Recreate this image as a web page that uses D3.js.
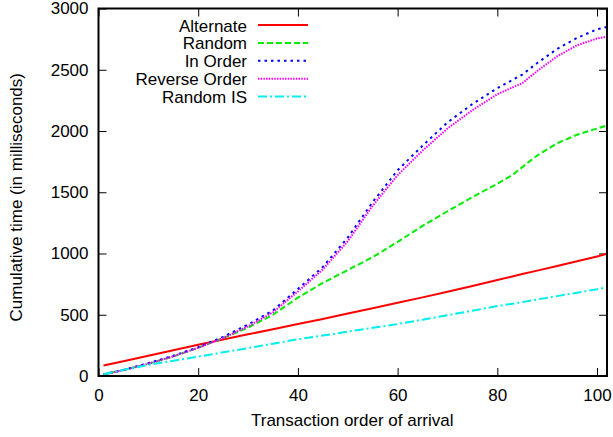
<!DOCTYPE html>
<html>
<head>
<meta charset="utf-8">
<script src="https://cdn.jsdelivr.net/npm/d3@7"></script>
<style>
  html, body { margin: 0; padding: 0; background: #fff; }
  svg { display: block; }
  text { font-family: "Liberation Sans", Arial, Helvetica, sans-serif; fill: #000; }
</style>
</head>
<body>
<svg id="chart" width="613" height="437"></svg>
<script>
// Transaction order (x) at which cumulative times were sampled
const order = [1, 5, 10, 15, 20, 25, 30, 35, 40, 45, 50, 55, 60, 65, 70, 75, 80, 83, 85, 88, 92, 96, 100, 102];

// Cumulative time in milliseconds for each scheduling strategy
const alternate = [85, 120, 165, 210, 255, 298, 340, 382, 424, 466, 510, 553, 598, 642, 688, 735, 784, 812, 832, 860, 898, 936, 975, 998];
const random    = [12, 48, 100, 160, 230, 310, 395, 500, 640, 760, 865, 970, 1095, 1225, 1345, 1460, 1570, 1640, 1705, 1800, 1900, 1970, 2020, 2045];
const inOrder   = [15, 50, 105, 165, 235, 320, 420, 535, 710, 890, 1130, 1420, 1680, 1880, 2070, 2220, 2350, 2416, 2460, 2555, 2670, 2760, 2830, 2850];
const reverse   = [12, 48, 100, 160, 230, 310, 405, 520, 690, 870, 1100, 1390, 1640, 1840, 2020, 2170, 2300, 2355, 2390, 2490, 2610, 2700, 2755, 2770];
const randomIS  = [15, 50, 90, 125, 158, 193, 228, 264, 300, 330, 362, 393, 424, 460, 496, 533, 571, 590, 603, 625, 652, 680, 708, 724];

const seriesNames = ["Alternate", "Random", "In Order", "Reverse Order", "Random IS"];
const seriesValues = [alternate, random, inOrder, reverse, randomIS];
const seriesColors = ["#ff0000", "#00ee00", "#0000ff", "#ff00ff", "#00eeee"];
const seriesDash = ["none", "6,3", "2.5,4", "1.5,1.2", "9,3,2,3"];

const xTicks = [0, 20, 40, 60, 80, 100];
const yTicks = [0, 500, 1000, 1500, 2000, 2500, 3000];

const svg = d3.select("#chart");
const plotLeft = 98.5, plotRight = 607, plotTop = 8.5, plotBottom = 376;

const x = d3.scaleLinear().domain([0, 102]).range([plotLeft, plotRight]);
const y = d3.scaleLinear().domain([0, 3000]).range([plotBottom, plotTop]);

const fontSize = 17;
const tickLen = 8;

// Axes with inward ticks, mirrored on top and right
const gBottom = svg.append("g").attr("transform", `translate(0,${plotBottom})`)
  .call(d3.axisBottom(x).tickValues(xTicks).tickSize(-tickLen).tickPadding(13).tickFormat(d3.format("d")));
const gLeft = svg.append("g").attr("transform", `translate(${plotLeft},0)`)
  .call(d3.axisLeft(y).tickValues(yTicks).tickSize(-tickLen).tickPadding(10).tickFormat(d3.format("d")));
const gTop = svg.append("g").attr("transform", `translate(0,${plotTop})`)
  .call(d3.axisTop(x).tickValues(xTicks).tickSize(-tickLen).tickFormat(""));
const gRight = svg.append("g").attr("transform", `translate(${plotRight},0)`)
  .call(d3.axisRight(y).tickValues(yTicks).tickSize(-tickLen).tickFormat(""));

[gBottom, gLeft, gTop, gRight].forEach(g => {
  g.select(".domain").remove();
  g.selectAll(".tick line").attr("stroke", "#000").attr("stroke-width", 1);
  g.selectAll("text").attr("font-size", fontSize).attr("font-family", null).style("fill", "#000");
});

// Data lines
const line = d3.line().x((d, i) => x(order[i])).y(d => y(d));
svg.append("clipPath").attr("id", "plotclip")
  .append("rect").attr("x", plotLeft).attr("y", plotTop)
  .attr("width", plotRight - plotLeft).attr("height", plotBottom - plotTop);

const plot = svg.append("g").attr("clip-path", "url(#plotclip)");
seriesValues.forEach((vals, k) => {
  plot.append("path")
    .datum(vals)
    .attr("fill", "none")
    .attr("stroke", seriesColors[k])
    .attr("stroke-width", 2)
    .attr("stroke-dasharray", seriesDash[k])
    .attr("d", line);
});

// Border
svg.append("rect")
  .attr("x", plotLeft).attr("y", plotTop)
  .attr("width", plotRight - plotLeft).attr("height", plotBottom - plotTop)
  .attr("fill", "none").attr("stroke", "#000").attr("stroke-width", 2);

// Legend
const legend = svg.append("g");
seriesNames.forEach((name, k) => {
  const ly = 25 + k * 17.9;
  legend.append("text")
    .attr("x", 247).attr("y", ly + 6.5)
    .attr("text-anchor", "end")
    .attr("font-size", fontSize)
    .text(name);
  legend.append("line")
    .attr("x1", 258).attr("x2", 308)
    .attr("y1", ly).attr("y2", ly)
    .attr("stroke", seriesColors[k])
    .attr("stroke-width", 2)
    .attr("stroke-dasharray", seriesDash[k]);
});

// Axis titles
svg.append("text")
  .attr("x", (plotLeft + plotRight) / 2 - 0.5).attr("y", 426)
  .attr("text-anchor", "middle")
  .attr("font-size", fontSize)
  .text("Transaction order of arrival");

svg.append("text")
  .attr("transform", `translate(21.5,${(plotTop + plotBottom) / 2 + 5}) rotate(-90)`)
  .attr("text-anchor", "middle")
  .attr("font-size", fontSize)
  .text("Cumulative time (in milliseconds)");
</script>
</body>
</html>
